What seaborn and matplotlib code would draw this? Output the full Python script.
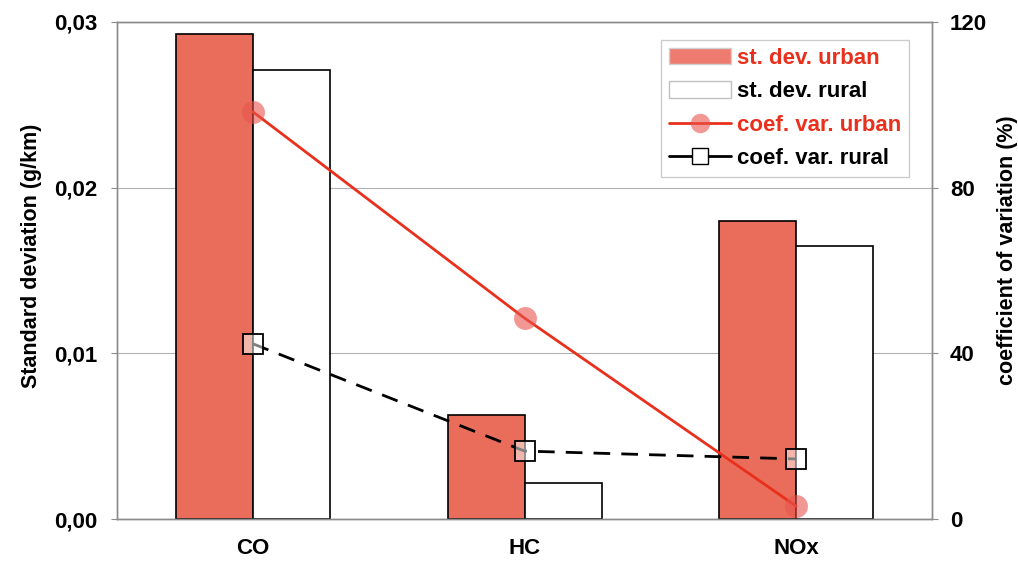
import numpy as np
import pandas as pd
import seaborn as sns
import matplotlib.pyplot as plt
from matplotlib.ticker import FuncFormatter, FixedLocator
from matplotlib.patches import Patch
from matplotlib.lines import Line2D

pollutants = ["CO", "HC", "NOx"]
sd_urban = [0.0293, 0.0063, 0.0180]
sd_rural = [0.0271, 0.0022, 0.0165]
cv_urban = [98.3, 48.5, 3.1]
cv_rural = [42.3, 16.4, 14.5]

red_bar = "#E96D5A"
red_line = "#E8301C"
grey = "#8c8c8c"

sns.set_style("white")
plt.rcParams["font.family"] = ["Liberation Sans", "DejaVu Sans"]
plt.rcParams["font.weight"] = "bold"
plt.rcParams["text.color"] = "black"
plt.rcParams["axes.labelcolor"] = "black"
plt.rcParams["xtick.labelcolor"] = "black"
plt.rcParams["ytick.labelcolor"] = "black"

df = pd.DataFrame({
    "pollutant": pollutants * 2,
    "sd": sd_urban + sd_rural,
    "area": ["urban"] * 3 + ["rural"] * 3,
})

fig = plt.figure(figsize=(10.18, 5.62), dpi=100)
ax = fig.add_axes([0.115, 0.0765, 0.8005, 0.8845])

sns.barplot(data=df, x="pollutant", y="sd", hue="area",
            palette={"urban": red_bar, "rural": "white"}, saturation=1,
            edgecolor="black", linewidth=1.2, width=0.567, gap=0,
            errorbar=None, legend=False, ax=ax, zorder=2)
ax.set_ylim(0, 0.03)
ax.set_xlim(-0.5, 2.5)
ax.yaxis.set_major_locator(FixedLocator([0, 0.01, 0.02, 0.03]))
ax.yaxis.set_major_formatter(FuncFormatter(lambda v, p: f"{v:.2f}".replace(".", ",")))
ax.grid(axis="y", color="#b0b0b0", linewidth=0.8, zorder=0)
ax.set_axisbelow(True)
ax.set_xlabel("")
ax.set_ylabel("Standard deviation (g/km)", fontsize=15.5, fontweight="bold")
ax.yaxis.set_label_coords(-0.092, 0.529)

ax2 = ax.twinx()
sns.pointplot(x=pollutants, y=cv_urban, color=red_line, markers="o", linestyles="-",
              linewidth=2, markersize=16.5, markerfacecolor=(0.91, 0.33, 0.30, 0.6),
              markeredgewidth=0, errorbar=None, ax=ax2)
sns.pointplot(x=pollutants, y=cv_rural, color="black", markers="s", linestyles=(0, (6, 4)),
              linewidth=2, markersize=14, markerfacecolor=(1, 1, 1, 0.5),
              markeredgecolor="black", markeredgewidth=1.3, errorbar=None, ax=ax2)
ax2.set_ylim(0, 120)
ax2.set_xlim(-0.5, 2.5)
ax2.yaxis.set_major_locator(FixedLocator([0, 40, 80, 120]))
ax2.set_ylabel("coefficient of variation (%)", fontsize=15.5, fontweight="bold")
ax2.yaxis.set_label_coords(1.080, 0.54)

# x ticks: labels at centres, marks at boundaries
ax.xaxis.set_major_locator(FixedLocator([0, 1, 2]))
ax.set_xticklabels(pollutants)
ax.xaxis.set_minor_locator(FixedLocator([-0.5, 0.5, 1.5, 2.5]))
ax.tick_params(axis="x", which="major", length=0, pad=14, labelsize=16)
ax.tick_params(axis="x", which="minor", length=12, direction="inout", color=grey, width=0.8)
ax.tick_params(axis="y", length=4, direction="out", color=grey, width=0.8, labelsize=16, pad=10)
ax2.tick_params(axis="y", length=4.5, direction="out", color=grey, width=0.8, labelsize=16, pad=8.5)
for lab in ax.get_xticklabels() + ax.get_yticklabels() + ax2.get_yticklabels():
    lab.set_fontweight("bold")

for a in (ax, ax2):
    for s in a.spines.values():
        s.set_visible(True)
        s.set_color(grey)
        s.set_linewidth(1.0)

handles = [
    Patch(facecolor="#EE7B70", edgecolor="#d0d0d0"),
    Patch(facecolor="white", edgecolor="#c0c0c0"),
    Line2D([], [], color=red_line, lw=2, marker="o", markersize=14,
           markerfacecolor=(0.91, 0.33, 0.30, 0.6), markeredgewidth=0),
    Line2D([], [], color="black", lw=2, marker="s", markersize=11,
           markerfacecolor="white", markeredgecolor="black"),
]
labels = ["st. dev. urban", "st. dev. rural", "coef. var. urban", "coef. var. rural"]
leg = ax2.legend(handles, labels, loc="upper right", bbox_to_anchor=(0.9715, 0.963),
                 fontsize=16, frameon=True, fancybox=False, edgecolor="#c0c0c0",
                 handlelength=2.8, handleheight=0.75, handletextpad=0.25, borderpad=0.35,
                 borderaxespad=0, labelspacing=0.55)
leg.get_frame().set_linewidth(1.0)
for t, c in zip(leg.get_texts(), [red_line, "black", red_line, "black"]):
    t.set_color(c)
    t.set_fontweight("bold")

fig.savefig("out.png", dpi=100)
